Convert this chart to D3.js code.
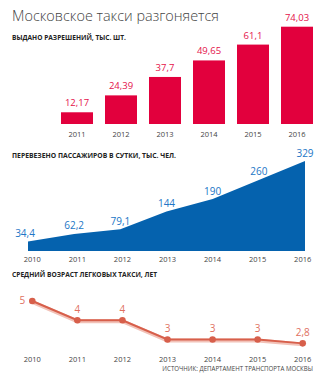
<!DOCTYPE html>
<html>
<head>
<meta charset="utf-8">
<script src="https://cdn.jsdelivr.net/npm/d3@7"></script>
<style>
  body { margin: 0; background: #fff; }
  svg text { font-family: "Open Sans", "Noto Sans", sans-serif; }
</style>
</head>
<body>
<svg id="viz"></svg>
<script>
const width = 334, height = 380;

// permits issued, thousands
const permitYears = [2011, 2012, 2013, 2014, 2015, 2016];
const permits = [12.17, 24.39, 37.7, 49.65, 61.1, 74.03];

// passengers per day, thousands
const years = [2010, 2011, 2012, 2013, 2014, 2015, 2016];
const passengers = [34.4, 62.2, 79.1, 144, 190, 260, 329];

// average taxi age, years
const ages = [5, 4, 4, 3, 3, 3, 2.8];

const fmt = v => String(v).replace(".", ",");

const svg = d3.select("#viz")
  .attr("width", width)
  .attr("height", height);

svg.append("text")
  .attr("x", 12).attr("y", 20.5)
  .attr("font-size", 15).attr("font-weight", 300)
  .attr("fill", "#444")
  .attr("textLength", 207).attr("lengthAdjust", "spacingAndGlyphs")
  .text("Московское такси разгоняется");

function heading(y, txt, len) {
  svg.append("text")
    .attr("x", 12).attr("y", y)
    .attr("font-size", 7).attr("font-weight", 700)
    .attr("fill", "#222")
    .attr("textLength", len).attr("lengthAdjust", "spacingAndGlyphs")
    .text(txt);
}

heading(39.7, "ВЫДАНО РАЗРЕШЕНИЙ, ТЫС. ШТ.", 114);
heading(158, "ПЕРЕВЕЗЕНО ПАССАЖИРОВ В СУТКИ, ТЫС. ЧЕЛ.", 164);
heading(277.3, "СРЕДНИЙ ВОЗРАСТ ЛЕГКОВЫХ ТАКСИ, ЛЕТ", 145);

// --- bars
const xb = d3.scaleBand().domain(permitYears).range([55, 319])
  .paddingInner(12 / 44).paddingOuter(6 / 44);
const yb = d3.scaleLinear().domain([3.7, 74.03]).range([124, 26.7]);

const bars = svg.append("g");
bars.selectAll("rect")
  .data(permits)
  .enter().append("rect")
  .attr("x", (d, i) => xb(permitYears[i]))
  .attr("y", d => yb(d))
  .attr("width", xb.bandwidth())
  .attr("height", d => yb.range()[0] - yb(d))
  .attr("fill", "#e2003d");

bars.selectAll("text.val")
  .data(permits)
  .enter().append("text")
  .attr("class", "val")
  .attr("x", (d, i) => xb(permitYears[i]) + xb.bandwidth() / 2)
  .attr("y", d => yb(d) - 6)
  .attr("text-anchor", "middle")
  .attr("font-size", 9.5)
  .attr("fill", "#e4104a")
  .text(fmt);

bars.selectAll("text.yr")
  .data(permitYears)
  .enter().append("text")
  .attr("class", "yr")
  .attr("x", d => xb(d) + xb.bandwidth() / 2)
  .attr("y", 136.7)
  .attr("text-anchor", "middle")
  .attr("font-size", 7.5)
  .attr("fill", "#444")
  .text(d => d);

// --- area
const xa = d3.scalePoint().domain(years).range([28, 305]);
const ya = d3.scaleLinear().domain([0, 329]).range([251, 161]);
const xl = d3.scalePoint().domain(years).range([32.3, 302.7]);

const area = d3.area()
  .x((d, i) => xa(years[i]))
  .y0(ya(0))
  .y1(d => ya(d));

const ag = svg.append("g");
ag.append("path")
  .datum(passengers)
  .attr("d", area)
  .attr("fill", "#0562ae");

ag.selectAll("text.val")
  .data(passengers)
  .enter().append("text")
  .attr("class", "val")
  .attr("x", (d, i) => xa(years[i]) + (i === 0 ? -3 : 0))
  .attr("y", d => ya(d) - 4.5)
  .attr("text-anchor", "middle")
  .attr("font-size", 10)
  .attr("fill", "#2276c6")
  .text(fmt);

ag.selectAll("text.yr")
  .data(years)
  .enter().append("text")
  .attr("class", "yr")
  .attr("x", d => xl(d))
  .attr("y", 262)
  .attr("text-anchor", "middle")
  .attr("font-size", 7.5)
  .attr("fill", "#444")
  .text(d => d);

// --- line
const yl = d3.scaleLinear().domain([0, 5]).range([397.3, 301]);

const line = d3.line()
  .x((d, i) => xl(years[i]))
  .y(d => yl(d));

const lg = svg.append("g");
lg.append("path")
  .datum(ages)
  .attr("d", line)
  .attr("fill", "none")
  .attr("stroke", "#f2c2b8")
  .attr("stroke-width", 4)
  .attr("transform", "translate(0,1)");

lg.append("path")
  .datum(ages)
  .attr("d", line)
  .attr("fill", "none")
  .attr("stroke", "#d75f4b")
  .attr("stroke-width", 2);

lg.selectAll("circle")
  .data(ages)
  .enter().append("circle")
  .attr("cx", (d, i) => xl(years[i]))
  .attr("cy", d => yl(d))
  .attr("r", 3.3)
  .attr("fill", "#d75f4b");

lg.selectAll("text.val")
  .data(ages)
  .enter().append("text")
  .attr("class", "val")
  .attr("x", (d, i) => i === 0 ? xl(years[i]) - 7 : xl(years[i]))
  .attr("y", (d, i) => i === 0 ? yl(d) + 2.5 : yl(d) - 7.5)
  .attr("text-anchor", (d, i) => i === 0 ? "end" : "middle")
  .attr("font-size", 10)
  .attr("fill", "#e0705f")
  .text(fmt);

lg.selectAll("text.yr")
  .data(years)
  .enter().append("text")
  .attr("class", "yr")
  .attr("x", d => xl(d))
  .attr("y", 361.7)
  .attr("text-anchor", "middle")
  .attr("font-size", 7.5)
  .attr("fill", "#444")
  .text(d => d);

// source line, squeezed horizontally to a narrow face
const src = svg.append("g");
const srcText = src.append("text")
  .attr("text-anchor", "end")
  .attr("font-size", 7.5)
  .attr("fill", "#444")
  .text("ИСТОЧНИК: ДЕПАРТАМЕНТ ТРАНСПОРТА МОСКВЫ");
const k = 151 / srcText.node().getComputedTextLength();
src.attr("transform", "translate(313,370.7) scale(" + k + ",1)");
</script>
</body>
</html>
